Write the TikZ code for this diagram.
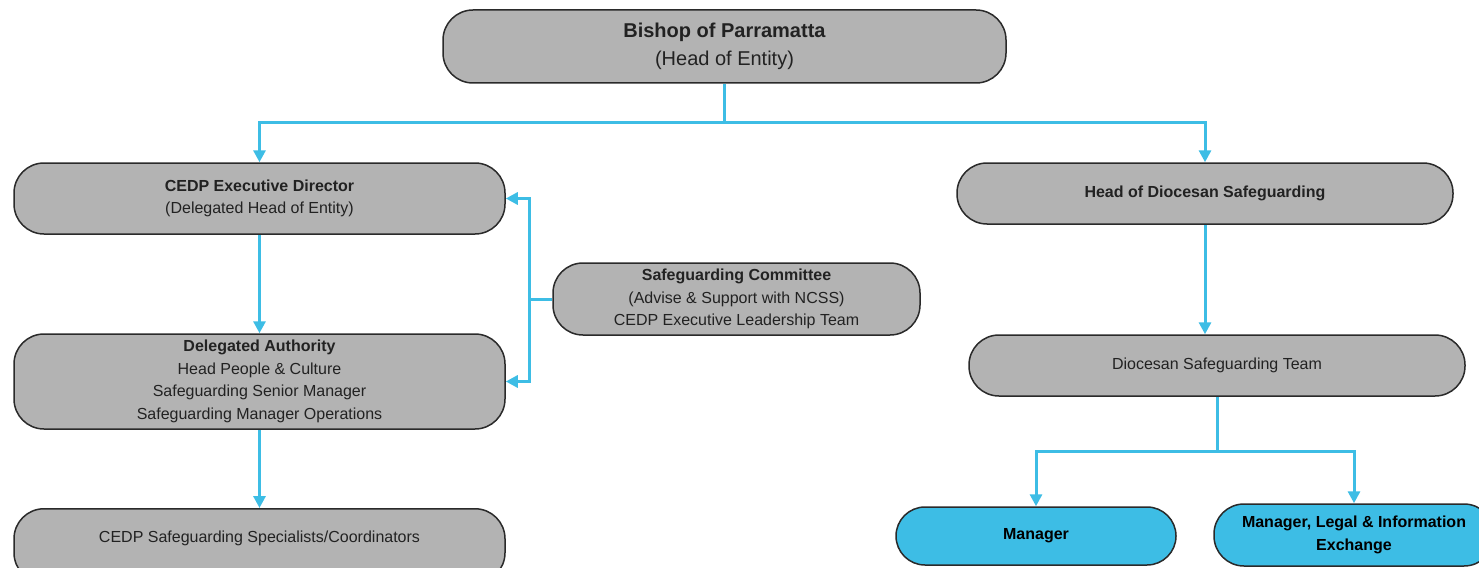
\documentclass[tikz,border=0pt]{standalone}
\usepackage{fontspec}
\setmainfont{Liberation Sans}
\usetikzlibrary{arrows.meta}
\definecolor{boxgray}{HTML}{B3B3B3}
\definecolor{linkblue}{HTML}{3DBDE5}
\definecolor{edge}{HTML}{2A2A2A}
\definecolor{txt}{HTML}{222222}
\tikzset{
  orgbox/.style={draw=edge, line width=1.5pt, fill=boxgray, rounded corners=30pt,
    align=center, inner sep=0pt, text=txt,
    font=\fontsize{16}{22.5}\selectfont},
  bluebox/.style={orgbox, fill=linkblue, text=black},
  conn/.style={draw=linkblue, line width=3pt},
  arr/.style={conn, -{Triangle[length=12pt,width=12pt]}}
}
\begin{document}
\begin{tikzpicture}[x=1pt,y=-1pt]
\useasboundingbox (0,0) rectangle (1479,567);
\clip (0,0) rectangle (1479,567);
\fill[white] (0,0) rectangle (1479,567);

\node[orgbox, minimum width=563pt, minimum height=73pt, font=\fontsize{20}{28}\selectfont] (bishop) at (724.5,46.5)
  {\textbf{Bishop of Parramatta}\\(Head of Entity)};
\node[orgbox, minimum width=491pt, minimum height=71pt] (exec) at (259.5,198.5)
  {\textbf{CEDP Executive Director}\\(Delegated Head of Entity)};
\node[orgbox, minimum width=491pt, minimum height=95pt] (deleg) at (259.5,381.5)
  {\textbf{Delegated Authority}\\Head People \& Culture\\Safeguarding Senior Manager\\Safeguarding Manager Operations};
\node[orgbox, minimum width=491pt, minimum height=74pt, text depth=18pt, anchor=north] (spec) at (259.5,508)
  {CEDP Safeguarding Specialists/Coordinators};
\node[orgbox, minimum width=367pt, minimum height=72pt] (comm) at (736.5,299)
  {\textbf{Safeguarding Committee}\\(Advise \& Support with NCSS)\\CEDP Executive Leadership Team};
\node[orgbox, minimum width=496pt, minimum height=61pt] (hds) at (1205,193.5)
  {\textbf{Head of Diocesan Safeguarding}};
\node[orgbox, minimum width=496pt, minimum height=61pt] (team) at (1217,365.5)
  {Diocesan Safeguarding Team};
\node[bluebox, minimum width=280pt, minimum height=58pt, rounded corners=29pt] (mgr) at (1036,536)
  {\textbf{Manager}};
\node[bluebox, minimum width=280pt, minimum height=62pt, rounded corners=30pt] (legal) at (1354,535)
  {\textbf{Manager, Legal \& Information}\\\textbf{Exchange}};

\coordinate (j1) at (724.5,123);
\coordinate (b1) at (529,299);
\coordinate (j2) at (1217,451);

\draw[conn] (bishop.south) -- (j1);
\draw[arr] (j1) -| (exec.north);
\draw[arr] (j1) -| (hds.north);
\draw[arr] (exec.south) -- (deleg.north);
\draw[arr] (deleg.south) -- (spec.north);
\draw[conn] (comm.west) -- (b1);
\draw[arr] (b1) |- (exec.east);
\draw[arr] (b1) |- (deleg.east);
\draw[arr] (hds.south) -- (hds.south |- team.north);
\draw[conn] (team.south) -- (j2);
\draw[arr] (j2) -| (mgr.north);
\draw[arr] (j2) -| (legal.north);
\end{tikzpicture}
\end{document}
